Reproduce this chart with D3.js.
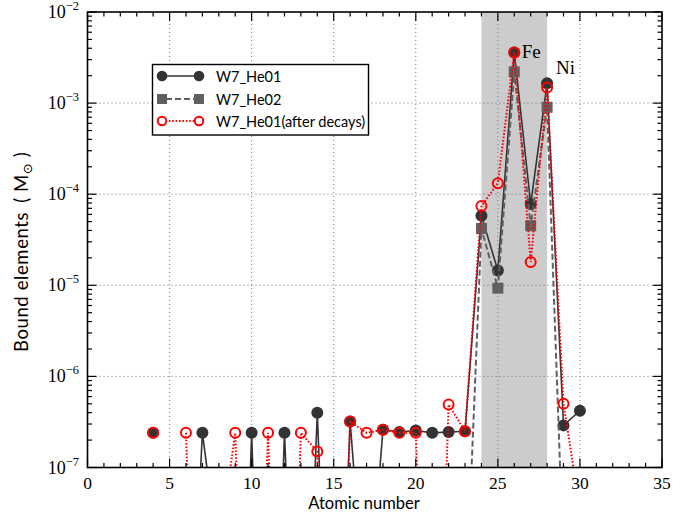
<!DOCTYPE html>
<html><head><meta charset="utf-8">
<script src="https://cdn.jsdelivr.net/npm/d3@7/dist/d3.min.js"></script>
<style>body{margin:0;background:#fff}</style>
</head><body>
<svg id="c" width="688" height="516"></svg>
<script>
// ---- data ----
const atomicNumbers = [4,5,6,7,8,9,10,11,12,13,14,15,16,17,18,19,20,21,22,23,24,25,26,27,28,29,30];
// W7_He01 bound mass (Msun); null = no value
const he01 = [2.4e-7,null,6e-11,2.4e-7,1e-8,1e-12,2.4e-7,1e-12,2.4e-7,1e-11,4.0e-7,1e-11,3.2e-7,1.5e-9,2.6e-7,2.45e-7,2.55e-7,2.4e-7,2.45e-7,2.5e-7,5.8e-5,1.45e-5,3.6e-3,7.8e-5,1.65e-3,2.9e-7,4.2e-7];
// W7_He02
const he02 = [null,null,null,null,null,null,null,null,null,null,null,null,null,null,null,null,null,null,null,1.8e-9,4.2e-5,9.3e-6,2.2e-3,4.5e-5,9.0e-4,9e-9,null];
// W7_He01 after decays
const he01Decayed = [2.4e-7,null,2.4e-7,1e-12,1.2e-8,2.4e-7,1e-12,2.4e-7,1e-12,2.4e-7,1.5e-7,1e-12,3.2e-7,2.4e-7,2.6e-7,2.4e-7,2.4e-7,1e-12,4.9e-7,2.5e-7,7.4e-5,1.32e-4,3.6e-3,1.8e-5,1.48e-3,5e-7,3.5e-8];
const seriesNames = ["W7_He01","W7_He02","W7_He01(after decays)"];
const xTickValues = [0,5,10,15,20,25,30,35];
const yTickExponents = [-7,-6,-5,-4,-3,-2];
const shadedRange = [24,28];
const peakLabels = ["Fe","Ni"];
const peakZ = [26,28];

// ---- layout ----
const L = 87.5, R = 662, T = 12, B = 467.5;
const svg = d3.select("#c");
const x = d3.scaleLinear().domain([0,35]).range([L,R]);
const y = d3.scaleLog().domain([1e-7,1e-2]).range([B,T]);

svg.append("defs").append("clipPath").attr("id","clip")
  .append("rect").attr("x",L).attr("y",T).attr("width",R-L).attr("height",B-T);

// shaded band
svg.append("rect").attr("x",x(shadedRange[0])).attr("y",T)
  .attr("width",x(shadedRange[1])-x(shadedRange[0])).attr("height",B-T)
  .attr("fill","#cccccc");

// grid
const grid = svg.append("g").attr("stroke","#777").attr("stroke-width",1).attr("stroke-dasharray","1,3");
xTickValues.filter(v=>v>0&&v<35).forEach(v=>{
  grid.append("line").attr("x1",x(v)).attr("x2",x(v)).attr("y1",T).attr("y2",B);
});
yTickExponents.filter(e=>e>-7&&e<-2).forEach(e=>{
  grid.append("line").attr("x1",L).attr("x2",R).attr("y1",y(Math.pow(10,e))).attr("y2",y(Math.pow(10,e)));
});

// series
const mk = arr => atomicNumbers.map((z,i)=>({z, v: arr[i]}));
const s1 = mk(he01), s2 = mk(he02), s3 = mk(he01Decayed);
const line = d3.line().defined(d=>d.v!=null).x(d=>x(d.z)).y(d=>y(d.v));
const plot = svg.append("g").attr("clip-path","url(#clip)");

const cBlack = "#333333", cGray = "#606060", cRed = "#ff0000";

plot.append("path").datum(s1).attr("d",line).attr("fill","none")
  .attr("stroke",cBlack).attr("stroke-width",1.6);
plot.selectAll(".m1").data(s1.filter(d=>d.v!=null)).join("circle")
  .attr("cx",d=>x(d.z)).attr("cy",d=>y(d.v)).attr("r",6).attr("fill",cBlack);

plot.append("path").datum(s2).attr("d",line).attr("fill","none")
  .attr("stroke",cGray).attr("stroke-width",2).attr("stroke-dasharray","6,3");
plot.selectAll(".m2").data(s2.filter(d=>d.v!=null)).join("rect")
  .attr("x",d=>x(d.z)-5.5).attr("y",d=>y(d.v)-5.5).attr("width",11).attr("height",11).attr("fill",cGray);

plot.append("path").datum(s3).attr("d",line).attr("fill","none")
  .attr("stroke",cRed).attr("stroke-width",2).attr("stroke-dasharray","1.6,1.8");
plot.selectAll(".m3").data(s3.filter(d=>d.v!=null)).join("circle")
  .attr("cx",d=>x(d.z)).attr("cy",d=>y(d.v)).attr("r",5).attr("fill","none")
  .attr("stroke",cRed).attr("stroke-width",2);

// peak labels
peakLabels.forEach((t,i)=>{
  const z = peakZ[i], v = he01[atomicNumbers.indexOf(z)];
  const dx = i===0 ? 7.5 : 9, dy = i===0 ? 6 : -9;
  svg.append("text").attr("x",x(z)+dx).attr("y",y(v)+dy)
    .attr("font-family","Liberation Serif, DejaVu Serif, serif").attr("font-size",19).attr("fill","#000").text(t);
});

// ticks
const tk = svg.append("g").attr("stroke","#000").attr("stroke-width",1.2);
for (let v=0; v<=35; v++) {
  const len = (v%5===0) ? 9 : 4.5;
  tk.append("line").attr("x1",x(v)).attr("x2",x(v)).attr("y1",B).attr("y2",B-len);
  tk.append("line").attr("x1",x(v)).attr("x2",x(v)).attr("y1",T).attr("y2",T+len);
}
yTickExponents.forEach(e=>{
  const yy = y(Math.pow(10,e));
  tk.append("line").attr("x1",L).attr("x2",L+9).attr("y1",yy).attr("y2",yy);
  tk.append("line").attr("x1",R).attr("x2",R-9).attr("y1",yy).attr("y2",yy);
  if (e<-2) for (let m=2;m<=9;m++){
    const ym = y(m*Math.pow(10,e));
    tk.append("line").attr("x1",L).attr("x2",L+4.5).attr("y1",ym).attr("y2",ym);
    tk.append("line").attr("x1",R).attr("x2",R-4.5).attr("y1",ym).attr("y2",ym);
  }
});

// frame
svg.append("rect").attr("x",L).attr("y",T).attr("width",R-L).attr("height",B-T)
  .attr("fill","none").attr("stroke","#000").attr("stroke-width",1.6);

// tick labels
const serif = "Liberation Serif, DejaVu Serif, serif";
xTickValues.forEach(v=>{
  svg.append("text").attr("x",x(v)).attr("y",489).attr("text-anchor","middle")
    .attr("font-family",serif).attr("font-size",17.5).text(v);
});
yTickExponents.forEach(e=>{
  const yy = y(Math.pow(10,e));
  const t = svg.append("text").attr("x",79).attr("y",yy+6).attr("text-anchor","end")
    .attr("font-family",serif).attr("font-size",18);
  t.append("tspan").text("10");
  t.append("tspan").attr("dy",-8).attr("font-size",12.5).text("\u2212"+Math.abs(e));
});

// axis labels
const sans = "Lato, DejaVu Sans, sans-serif";
svg.append("text").attr("x",364).attr("y",509).attr("text-anchor","middle")
  .attr("font-family",sans).attr("font-size",16.5).text("Atomic number");
const yl = svg.append("text").attr("transform","translate(27.5,352) rotate(-90)")
  .attr("text-anchor","start").attr("font-family",sans).attr("font-size",18.5)
  .attr("letter-spacing",0.6);
yl.append("tspan").text("Bound elements");
yl.append("tspan").attr("dx",9).text("( M");
yl.append("tspan").attr("dy",4).attr("font-size",13).text("\u2299");
yl.append("tspan").attr("dy",-4).text(" )");

// legend
const lg = svg.append("g");
lg.append("rect").attr("x",152.5).attr("y",64.5).attr("width",216).attr("height",70.5)
  .attr("fill","#fff").attr("stroke","#000").attr("stroke-width",1.4);
const rowsY = [76, 99, 121];
const lx1 = 162, lx2 = 199;
// row 1
lg.append("line").attr("x1",lx1).attr("x2",lx2).attr("y1",rowsY[0]).attr("y2",rowsY[0]).attr("stroke",cBlack).attr("stroke-width",1.6);
[lx1,lx2].forEach(px=>lg.append("circle").attr("cx",px).attr("cy",rowsY[0]).attr("r",5.3).attr("fill",cBlack));
// row 2
lg.append("line").attr("x1",lx1).attr("x2",lx2).attr("y1",rowsY[1]).attr("y2",rowsY[1]).attr("stroke",cGray).attr("stroke-width",2).attr("stroke-dasharray","6,3").attr("stroke-dashoffset",-4);
[lx1,lx2].forEach(px=>lg.append("rect").attr("x",px-5).attr("y",rowsY[1]-5).attr("width",10).attr("height",10).attr("fill",cGray));
// row 3
lg.append("line").attr("x1",lx1).attr("x2",lx2).attr("y1",rowsY[2]).attr("y2",rowsY[2]).attr("stroke",cRed).attr("stroke-width",2).attr("stroke-dasharray","1.6,1.8");
[lx1,lx2].forEach(px=>lg.append("circle").attr("cx",px).attr("cy",rowsY[2]).attr("r",4.3).attr("fill","#fff").attr("stroke",cRed).attr("stroke-width",2));
seriesNames.forEach((n,i)=>{
  lg.append("text").attr("x",216).attr("y",rowsY[i]+5.5).attr("font-family",sans).attr("font-size",14.5).text(n);
});
</script>
</body></html>
